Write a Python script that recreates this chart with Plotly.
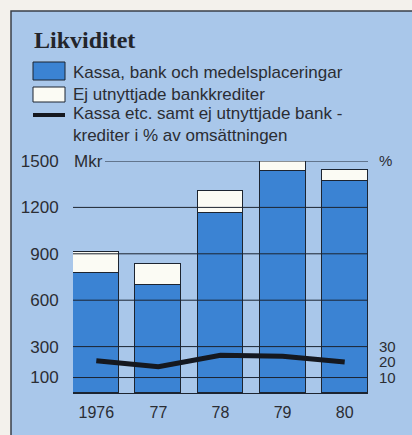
import plotly.graph_objects as go

# ---- data ----
years = ["1976", "77", "78", "79", "80"]
kassa = [776, 698, 1162, 1435, 1370]            # Mkr, blue
ej_utnyttjade = [136, 134, 146, 75, 71]          # Mkr, white (stacked)
procent = [20.9, 17.0, 24.4, 23.7, 20.0]         # % av omsättningen
left_ticks = [100, 300, 600, 900, 1200, 1500]
right_ticks = [10, 20, 30, 150]
right_ticktext = ["10", "20", "30", "%"]

# ---- style ----
BG_OUT = "#f3f1ec"
BG_IN = "#a9c7ea"
BLUE = "#3b83d3"
WHITE = "#fbfbf4"
DARK = "#1c2430"
TEXT = "#2b2d33"
SANS = "Liberation Sans"
SERIF = "Liberation Serif"

W, H = 412, 435
L, R, T, B = 73, 368, 161, 393   # plot area pixel box


def px(x):
    return (x - L) / (R - L)


def py(y):
    return (B - y) / (B - T)


fig = go.Figure()
fig.add_trace(go.Bar(x=years, y=kassa, marker=dict(color=BLUE, line=dict(color=DARK, width=1)),
                     width=0.74, showlegend=False, hoverinfo="skip"))
fig.add_trace(go.Bar(x=years, y=ej_utnyttjade, marker=dict(color=WHITE, line=dict(color=DARK, width=1)),
                     width=0.74, showlegend=False, hoverinfo="skip"))
fig.add_trace(go.Scatter(x=years, y=procent, yaxis="y2", mode="lines",
                         line=dict(color="#15181f", width=5), showlegend=False, hoverinfo="skip"))

shapes = []
# panel background with border
shapes.append(dict(type="rect", xref="paper", yref="paper", x0=px(11), x1=px(420), y0=py(445), y1=py(11),
                   fillcolor=BG_IN, line=dict(color="#3a3f48", width=1.5), layer="below"))
# gridlines above bars
for v in left_ticks:
    x0 = px(105) if v == max(left_ticks) else 0
    shapes.append(dict(type="line", xref="paper", yref="y", x0=x0, x1=1, y0=v, y1=v,
                       line=dict(color=DARK, width=1), layer="above"))
# legend swatches
shapes.append(dict(type="rect", xref="paper", yref="paper", x0=px(33), x1=px(65), y0=py(80), y1=py(62),
                   fillcolor=BLUE, line=dict(color=DARK, width=1)))
shapes.append(dict(type="rect", xref="paper", yref="paper", x0=px(33), x1=px(65), y0=py(102), y1=py(87),
                   fillcolor=WHITE, line=dict(color=DARK, width=1)))
shapes.append(dict(type="line", xref="paper", yref="paper", x0=px(33), x1=px(65), y0=py(115), y1=py(115),
                   line=dict(color="#15181f", width=4)))

LEG = dict(family=SANS, size=17, color=TEXT)
annotations = [
    dict(text="<b>Likviditet</b>", x=px(32), y=py(40), xref="paper", yref="paper", xanchor="left",
         yanchor="middle", showarrow=False, font=dict(family=SERIF, size=24, color="#23252b")),
    dict(text="Kassa, bank och medelsplaceringar", x=px(71), y=py(73), xref="paper", yref="paper",
         xanchor="left", yanchor="middle", showarrow=False, font=LEG),
    dict(text="Ej utnyttjade bankkrediter", x=px(71), y=py(94), xref="paper", yref="paper",
         xanchor="left", yanchor="middle", showarrow=False, font=LEG),
    dict(text="Kassa etc. samt ej utnyttjade bank -", x=px(71), y=py(114), xref="paper", yref="paper",
         xanchor="left", yanchor="middle", showarrow=False, font=LEG),
    dict(text="krediter i % av omsättningen", x=px(71), y=py(135), xref="paper", yref="paper",
         xanchor="left", yanchor="middle", showarrow=False, font=LEG),
    dict(text="Mkr", x=px(72), y=1500, xref="paper", yref="y", xanchor="left", yanchor="middle",
         showarrow=False, font=dict(family=SANS, size=17, color=TEXT)),
]

fig.update_layout(
    width=W, height=H,
    margin=dict(l=L, r=W - R, t=T, b=H - B, pad=0),
    paper_bgcolor=BG_OUT, plot_bgcolor="rgba(0,0,0,0)",
    barmode="stack", bargap=0,
    shapes=shapes, annotations=annotations,
    xaxis=dict(range=[-0.375, 4.375], showgrid=False, zeroline=False, showline=True,
               linecolor=DARK, linewidth=1, ticks="outside", ticklen=5, tickcolor="rgba(0,0,0,0)",
               tickfont=dict(family=SANS, size=16, color=TEXT), fixedrange=True),
    yaxis=dict(range=[0, 1500], tickvals=left_ticks, showgrid=False, zeroline=False, showline=False,
               ticks="outside", ticklen=10, tickcolor="rgba(0,0,0,0)",
               tickfont=dict(family=SANS, size=17, color=TEXT), fixedrange=True),
    yaxis2=dict(range=[0, 150], overlaying="y", side="right", tickvals=right_ticks, ticktext=right_ticktext,
                showgrid=False, zeroline=False, showline=False, ticks="outside", ticklen=7,
                tickcolor="rgba(0,0,0,0)", tickfont=dict(family=SANS, size=15, color=TEXT), fixedrange=True),
    showlegend=False,
)

fig.write_html("out.html", config=dict(displayModeBar=False),
               post_script="document.body.style.margin='0';document.body.style.overflow='hidden';")
